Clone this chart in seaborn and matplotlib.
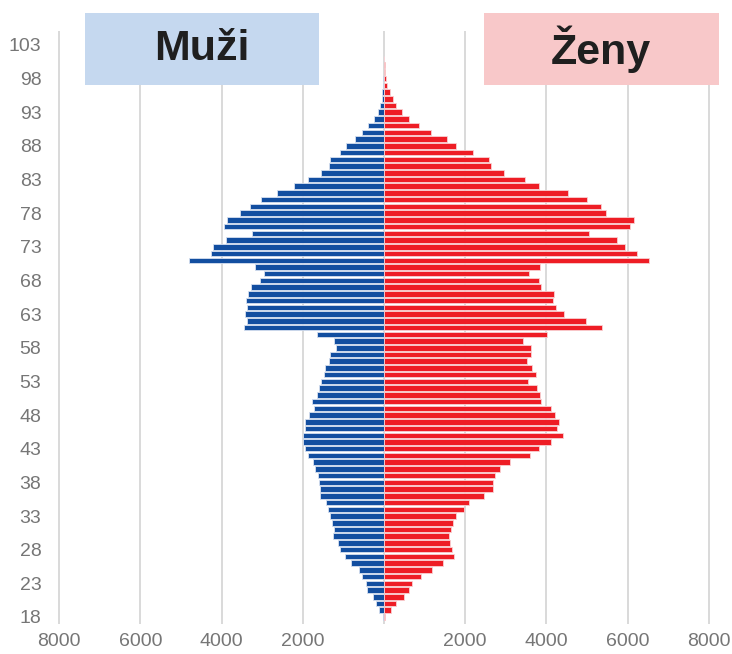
import numpy as np
import pandas as pd
import seaborn as sns
import matplotlib.pyplot as plt
from matplotlib.patches import Rectangle

# vek 18..101
ages = list(range(18, 102))

male = [15, 130, 200, 280, 410, 435, 535, 610, 825, 955,
        1080, 1130, 1245, 1235, 1275, 1335, 1375, 1425, 1580, 1580,
        1605, 1630, 1695, 1760, 1870, 1935, 1985, 1990, 1935, 1950,
        1845, 1730, 1780, 1655, 1590, 1540, 1480, 1465, 1360, 1335,
        1175, 1220, 1645, 3450, 3365, 3425, 3365, 3405, 3350, 3270,
        3060, 2945, 3185, 4805, 4265, 4200, 3895, 3250, 3935, 3870,
        3555, 3310, 3030, 2625, 2220, 1875, 1545, 1350, 1325, 1095,
        930, 715, 545, 395, 255, 140, 100, 50, 50, 35,
        25, 10, 5, 0]

female = [15, 165, 290, 500, 610, 690, 920, 1175, 1465, 1720,
          1665, 1620, 1595, 1645, 1695, 1780, 1965, 2100, 2470, 2675,
          2685, 2725, 2855, 3095, 3590, 3825, 4125, 4410, 4255, 4315,
          4205, 4125, 3875, 3845, 3770, 3540, 3755, 3655, 3515, 3630,
          3620, 3425, 4015, 5360, 4965, 4435, 4230, 4165, 4190, 3875,
          3810, 3565, 3835, 6520, 6220, 5925, 5745, 5045, 6050, 6155,
          5465, 5350, 5005, 4535, 3820, 3465, 2955, 2640, 2585, 2180,
          1785, 1545, 1150, 855, 615, 445, 290, 220, 150, 80,
          50, 25, 20, 10]

x_ticks = [-8000, -6000, -4000, -2000, 0, 2000, 4000, 6000, 8000]
x_labels = ['8000', '6000', '4000', '2000', '', '2000', '4000', '6000', '8000']
y_ticks = list(range(18, 104, 5))

df = pd.DataFrame({'age': ages, 'male': -np.array(male), 'female': female})

sns.set_theme(style='white')
plt.rcParams['font.family'] = ['Liberation Sans', 'DejaVu Sans']

fig = plt.figure(figsize=(7.32, 6.54), dpi=100)
ax = fig.add_axes([0.0642, 0.0453, 0.9208, 0.9066])

ax.grid(False)
for xt in x_ticks:
    ax.axvline(xt, color='#d9d9d9', lw=1.4, zorder=0)

sns.barplot(data=df, x='male', y='age', orient='y', native_scale=True,
            color='#124ea0', saturation=1, width=0.82, errorbar=None,
            edgecolor='#d6e0f0', linewidth=0.6, ax=ax, zorder=2)
sns.barplot(data=df, x='female', y='age', orient='y', native_scale=True,
            color='#ee1d25', saturation=1, width=0.82, errorbar=None,
            edgecolor='#f9d0d2', linewidth=0.6, ax=ax, zorder=2)

ax.set_xlim(-8300, 8300)
ax.set_ylim(16.9, 105)
ax.set_xticks(x_ticks)
ax.set_xticklabels(x_labels)
ax.set_yticks(y_ticks)
ax.set_yticklabels([str(t) for t in y_ticks])
ax.tick_params(axis='both', length=0, labelsize=14, labelcolor='#767676')
ax.tick_params(axis='x', pad=6)
ax.tick_params(axis='y', pad=4)
ax.set_xlabel('')
ax.set_ylabel('')
sns.despine(ax=ax, left=True, bottom=True)

# popisky Muzi / Zeny
fig.add_artist(Rectangle((0.1161, 0.870), 0.3197, 0.110, transform=fig.transFigure,
                         facecolor='#c5d8ef', edgecolor='none', zorder=5))
fig.add_artist(Rectangle((0.6612, 0.870), 0.321, 0.110, transform=fig.transFigure,
                         facecolor='#f8c8c9', edgecolor='none', zorder=5))
fig.text(0.276, 0.925, 'Muži', ha='center', va='center', fontsize=31,
         fontweight='bold', color='#1f1f1f', zorder=6)
fig.text(0.821, 0.925, 'Ženy', ha='center', va='center', fontsize=31,
         fontweight='bold', color='#1f1f1f', zorder=6)

fig.savefig('out.png', dpi=100)
